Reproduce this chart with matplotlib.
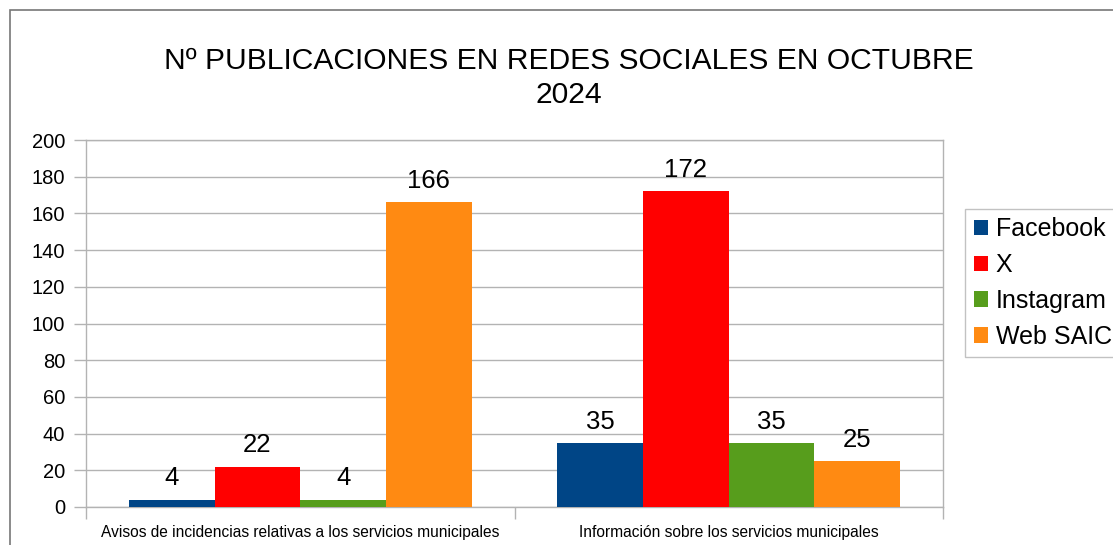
import matplotlib
matplotlib.use("Agg")
import matplotlib.pyplot as plt
import numpy as np
from matplotlib.patches import Rectangle

categories = ["Avisos de incidencias relativas a los servicios municipales",
              "Información sobre los servicios municipales"]
series_names = ["Facebook", "X", "Instagram", "Web SAIC"]
facebook = [4, 35]
x_vals = [22, 172]
instagram = [4, 35]
web_saic = [166, 25]
colors = ["#004586", "#ff0000", "#579d1c", "#ff8a12"]
y_ticks = [0, 20, 40, 60, 80, 100, 120, 140, 160, 180, 200]

plt.rcParams['font.family'] = ['Liberation Sans', 'DejaVu Sans']

W, H = 1113, 545
fig = plt.figure(figsize=(W / 100, H / 100), dpi=100)
ax = fig.add_axes([86 / W, 1 - 507 / H, (943 - 86) / W, (507 - 140) / H])

grid_c = "#b3b3b3"
data = [facebook, x_vals, instagram, web_saic]
bw = 0.2
xs = np.arange(len(categories))
for i, (name, vals) in enumerate(zip(series_names, data)):
    pos = xs - 0.4 + bw * (i + 0.5)
    ax.bar(pos, vals, width=bw, color=colors[i], label=name, zorder=3)
    for p, v in zip(pos, vals):
        ax.text(p, v + 5, str(v), ha="center", va="bottom", fontsize=18.5, color="#000000")

ax.set_xlim(-0.5, len(categories) - 0.5)
ax.set_ylim(0, 200)
ax.set_yticks(y_ticks)
ax.set_yticklabels([str(t) for t in y_ticks], fontsize=14.5)
ax.yaxis.grid(True, color=grid_c, linewidth=1, zorder=0)
ax.tick_params(axis="y", length=8.6, color=grid_c, width=1, pad=6.5)

ax.set_xticks(np.arange(-0.5, len(categories)))
ax.set_xticklabels([])
ax.tick_params(axis="x", which="major", length=8.6, color=grid_c, width=1)
ax.set_xticks(xs, minor=True)
ax.set_xticklabels(categories, minor=True, fontsize=11.2)
ax.tick_params(axis="x", which="minor", length=0, pad=13)
for s in ax.spines.values():
    s.set_color(grid_c)
    s.set_linewidth(1)

fig.text(569 / W, 1 - 78 / H, "Nº PUBLICACIONES EN REDES SOCIALES EN OCTUBRE\n2024",
         ha="center", va="center", fontsize=21.6, linespacing=1.27)

leg = ax.legend(loc="center left", bbox_to_anchor=(965 / W, 1 - 283 / H),
                bbox_transform=fig.transFigure, fontsize=18, frameon=True,
                fancybox=False, edgecolor=grid_c, handlelength=0.58, handleheight=0.58,
                handletextpad=0.3, labelspacing=0.47, borderpad=0.35, borderaxespad=0)
leg.get_frame().set_linewidth(1)

fig.patches.append(Rectangle((9.5 / W, -0.1), 1.2, 1 - 9.5 / H + 0.1, transform=fig.transFigure,
                             fill=False, edgecolor="#777777", linewidth=1.2))

fig.savefig("out.png", dpi=100)
